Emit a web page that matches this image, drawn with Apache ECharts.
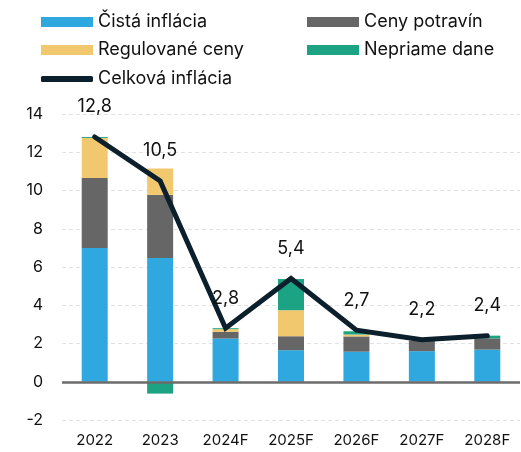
<!DOCTYPE html>
<html><head><meta charset="utf-8">
<script src="https://cdn.jsdelivr.net/npm/echarts@6/dist/echarts.min.js"></script>
<style>html,body{margin:0;padding:0;background:#fff}#c{width:521px;height:452px}</style>
</head><body><div id="c"></div>
<script>
const categories = ['2022','2023','2024F','2025F','2026F','2027F','2028F'];
const cistaInflacia = [7.0, 6.47, 2.26, 1.65, 1.57, 1.6, 1.68];
const cenyPotravin = [3.65, 3.3, 0.35, 0.73, 0.8, 0.55, 0.59];
const regulovaneCeny = [2.1, 1.38, 0.14, 1.36, 0.1, -0.07, 0];
const nepriameDane = [0.05, -0.62, 0.05, 1.63, 0.17, 0, 0.14];
const celkovaInflacia = [12.8, 10.5, 2.8, 5.4, 2.7, 2.2, 2.4];
const yTicks = [-2, 14, 2];

const FONT = 'Inter';
const chart = echarts.init(document.getElementById('c'), null, {renderer:'canvas'});
const barBase = {type:'bar', stack:'total', barWidth:26, emphasis:{disabled:true}};
const legendText = {fontFamily:FONT, fontSize:18, color:'#111'};
chart.setOption({
  animation:false,
  textStyle:{fontFamily:FONT},
  grid:{left:62, right:1, top:114, bottom:32, containLabel:false},
  legend:[
    {left:41, top:13, padding:0, orient:'vertical', itemWidth:52, itemHeight:10, itemGap:10, icon:'rect',
     textStyle:legendText, data:['Čistá inflácia','Regulované ceny']},
    {left:307, top:13, padding:0, orient:'vertical', itemWidth:52, itemHeight:10, itemGap:10, icon:'rect',
     textStyle:legendText, data:['Ceny potravín','Nepriame dane']},
    {left:41, top:70, padding:0, itemWidth:52, itemHeight:6, icon:'roundRect',
     textStyle:legendText, data:['Celková inflácia']}
  ],
  xAxis:{type:'category', data:categories,
    axisLine:{show:false, onZero:false}, axisTick:{show:false},
    axisLabel:{fontFamily:FONT, fontSize:15, color:'#111', margin:13}},
  yAxis:{type:'value', min:yTicks[0], max:yTicks[1], interval:yTicks[2],
    axisLine:{show:false}, axisTick:{show:false},
    axisLabel:{fontFamily:FONT, fontSize:16, color:'#111', margin:19},
    splitLine:{lineStyle:{color:'#e2e2e2', type:[4,3], width:1}}},
  series:[
    Object.assign({name:'Čistá inflácia', data:cistaInflacia, itemStyle:{color:'#2fa8df'}}, barBase),
    Object.assign({name:'Ceny potravín', data:cenyPotravin, itemStyle:{color:'#666666'}}, barBase),
    Object.assign({name:'Regulované ceny', data:regulovaneCeny, itemStyle:{color:'#f2c86f'}}, barBase),
    Object.assign({name:'Nepriame dane', data:nepriameDane, itemStyle:{color:'#1ba383'}}, barBase),
    {name:'Celková inflácia', type:'line', data:celkovaInflacia, showSymbol:true, symbol:'circle', symbolSize:0,
     itemStyle:{color:'#0c1f2c'},
     lineStyle:{color:'#0c1f2c', width:5, cap:'round', join:'miter'},
     label:{show:true, position:'top', distance:21, fontFamily:FONT, fontSize:18, color:'#111',
       formatter:p=>String(p.value).replace('.',',')},
     markLine:{silent:true, symbol:'none', label:{show:false},
       lineStyle:{color:'#6b6b6b', type:'solid', width:2.5}, data:[{yAxis:0}]},
     z:5}
  ]
});
</script></body></html>
